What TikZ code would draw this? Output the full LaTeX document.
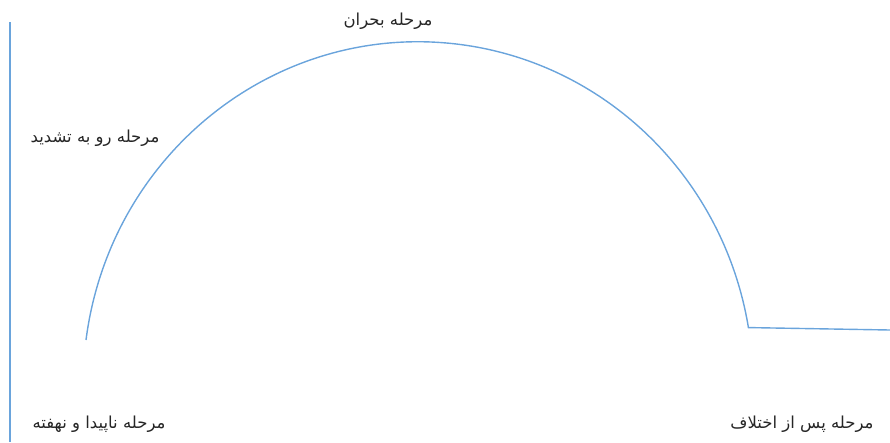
\documentclass[tikz,border=0pt]{standalone}
\usepackage{fontspec}
\usetikzlibrary{positioning}
\TeXXeTstate=1
\newfontfamily\arabicfont[Script=Arabic]{DejaVu Sans}
\definecolor{curve}{HTML}{6AA4DC}
\definecolor{ink}{HTML}{262626}
\tikzset{
  phase/.style={text=ink,inner sep=0pt,font=\arabicfont\fontsize{16.5}{19}\selectfont},
  cline/.style={draw=curve,line width=1.4pt},
}

\begin{document}
\begin{tikzpicture}[x=1pt,y=-1pt]
    \useasboundingbox (0,0) rectangle (890,442);
    % axis at the left
    \coordinate (axtop) at (10,22);
    \coordinate (axbot) at (10,442);
    \draw[cline,line width=1.6pt] (axtop) -- (axbot);
    % rise, crisis, fall, after
    \coordinate (start) at (86,340);
    \coordinate (fall) at (747.5,328);
    \coordinate (tail) at (890,330);
    \draw[cline] (start) arc[start angle=-172.5,end angle=-9.6,x radius=335,y radius=343]
      -- (tail);
    \node[phase] (crisis) at (388,21) {\beginR مرحله بحران\endR};
    \node[phase] (rise) at (95,138) {\beginR مرحله رو به تشدید\endR};
    \node[phase] (latent) at (99,424) {\beginR مرحله ناپیدا و نهفته\endR};
    \node[phase] (after) at (802,424) {\beginR مرحله پس از اختلاف\endR};
  \end{tikzpicture}
\end{document}
